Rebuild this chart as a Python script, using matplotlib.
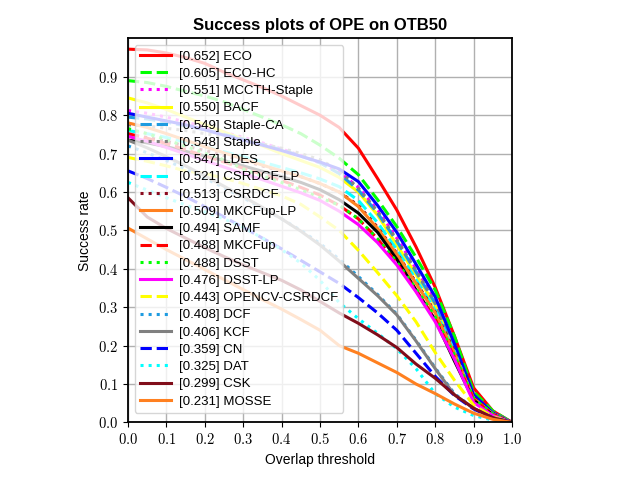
import numpy as np
import matplotlib
matplotlib.use("Agg")
from matplotlib import pyplot as plt
from matplotlib.ticker import FuncFormatter


# overlap thresholds used by the OTB toolkit
thresholds = np.linspace(0, 1, 21)

names = ["ECO", "ECO-HC", "MCCTH-Staple", "BACF", "Staple-CA", "Staple", "LDES",
         "CSRDCF-LP", "CSRDCF", "MKCFup-LP", "SAMF", "MKCFup", "DSST", "DSST-LP",
         "OPENCV-CSRDCF", "DCF", "KCF", "CN", "DAT", "CSK", "MOSSE"]
auc = [0.652, 0.605, 0.551, 0.550, 0.549, 0.548, 0.547, 0.521, 0.513, 0.509,
       0.494, 0.488, 0.488, 0.476, 0.443, 0.408, 0.406, 0.359, 0.325, 0.299, 0.231]

eco = [0.972, 0.970, 0.962, 0.950, 0.935, 0.912, 0.892, 0.872, 0.850, 0.825, 0.800,
       0.768, 0.714, 0.635, 0.553, 0.457, 0.352, 0.225, 0.090, 0.030, 0.0]
eco_hc = [0.890, 0.885, 0.875, 0.862, 0.850, 0.835, 0.815, 0.795, 0.775, 0.752, 0.722,
          0.688, 0.645, 0.580, 0.510, 0.430, 0.345, 0.225, 0.080, 0.030, 0.0]
mccth = [0.812, 0.805, 0.795, 0.782, 0.770, 0.756, 0.742, 0.728, 0.712, 0.695, 0.676,
         0.652, 0.612, 0.553, 0.480, 0.400, 0.315, 0.200, 0.070, 0.025, 0.0]
bacf = [0.845, 0.832, 0.815, 0.795, 0.776, 0.756, 0.738, 0.720, 0.700, 0.682, 0.664,
        0.638, 0.600, 0.540, 0.462, 0.385, 0.305, 0.195, 0.070, 0.025, 0.0]
staple_ca = [0.795, 0.790, 0.782, 0.772, 0.762, 0.750, 0.738, 0.724, 0.710, 0.694, 0.676,
             0.648, 0.605, 0.545, 0.472, 0.392, 0.310, 0.195, 0.068, 0.024, 0.0]
staple = [0.775, 0.772, 0.766, 0.760, 0.752, 0.744, 0.735, 0.725, 0.714, 0.700, 0.684,
          0.656, 0.610, 0.550, 0.476, 0.396, 0.312, 0.198, 0.068, 0.024, 0.0]
ldes = [0.805, 0.795, 0.785, 0.775, 0.762, 0.748, 0.735, 0.722, 0.708, 0.693, 0.678,
        0.660, 0.627, 0.565, 0.495, 0.412, 0.327, 0.205, 0.072, 0.025, 0.0]
csrdcf_lp = [0.760, 0.752, 0.742, 0.730, 0.718, 0.705, 0.692, 0.678, 0.664, 0.650, 0.634,
             0.614, 0.578, 0.520, 0.450, 0.372, 0.292, 0.185, 0.062, 0.022, 0.0]
csrdcf = [0.750, 0.742, 0.732, 0.720, 0.708, 0.695, 0.682, 0.668, 0.654, 0.640, 0.622,
          0.600, 0.565, 0.508, 0.440, 0.365, 0.288, 0.185, 0.065, 0.022, 0.0]
mkcfup_lp = [0.780, 0.768, 0.752, 0.735, 0.718, 0.702, 0.686, 0.670, 0.655, 0.640, 0.622,
             0.600, 0.562, 0.505, 0.438, 0.362, 0.285, 0.180, 0.062, 0.022, 0.0]
samf = [0.735, 0.728, 0.718, 0.706, 0.694, 0.682, 0.668, 0.654, 0.640, 0.625, 0.606,
        0.580, 0.545, 0.495, 0.425, 0.345, 0.267, 0.160, 0.058, 0.020, 0.0]
mkcfup = [0.752, 0.740, 0.726, 0.710, 0.694, 0.678, 0.662, 0.646, 0.630, 0.612, 0.592,
          0.565, 0.530, 0.478, 0.415, 0.343, 0.268, 0.170, 0.060, 0.020, 0.0]
dsst = [0.765, 0.752, 0.736, 0.719, 0.701, 0.684, 0.660, 0.642, 0.625, 0.606, 0.585,
        0.566, 0.530, 0.478, 0.418, 0.348, 0.275, 0.175, 0.062, 0.022, 0.0]
dsst_lp = [0.745, 0.732, 0.716, 0.699, 0.682, 0.665, 0.648, 0.632, 0.615, 0.598, 0.578,
           0.550, 0.515, 0.468, 0.410, 0.340, 0.262, 0.165, 0.052, 0.018, 0.0]
opencv_csrdcf = [0.690, 0.680, 0.668, 0.655, 0.648, 0.636, 0.622, 0.606, 0.590, 0.568, 0.535,
                 0.500, 0.448, 0.390, 0.330, 0.262, 0.182, 0.110, 0.045, 0.015, 0.0]
dcf = [0.720, 0.702, 0.682, 0.660, 0.636, 0.611, 0.585, 0.558, 0.530, 0.500, 0.466,
       0.425, 0.380, 0.333, 0.282, 0.214, 0.142, 0.075, 0.036, 0.012, 0.0]
kcf = [0.735, 0.715, 0.692, 0.668, 0.642, 0.615, 0.588, 0.560, 0.530, 0.498, 0.462,
       0.420, 0.375, 0.330, 0.280, 0.212, 0.140, 0.072, 0.037, 0.012, 0.0]
cn = [0.655, 0.635, 0.612, 0.588, 0.562, 0.535, 0.508, 0.480, 0.452, 0.422, 0.392,
      0.362, 0.325, 0.285, 0.240, 0.180, 0.120, 0.070, 0.035, 0.012, 0.0]
dat = [0.625, 0.605, 0.585, 0.566, 0.548, 0.530, 0.508, 0.480, 0.450, 0.415, 0.370,
       0.312, 0.270, 0.232, 0.192, 0.140, 0.075, 0.040, 0.018, 0.006, 0.0]
csk = [0.585, 0.535, 0.505, 0.480, 0.455, 0.432, 0.410, 0.390, 0.370, 0.345, 0.315,
       0.285, 0.258, 0.228, 0.195, 0.152, 0.115, 0.072, 0.037, 0.012, 0.0]
mosse = [0.506, 0.478, 0.450, 0.424, 0.398, 0.372, 0.346, 0.320, 0.295, 0.268, 0.240,
         0.200, 0.180, 0.155, 0.130, 0.100, 0.075, 0.048, 0.024, 0.008, 0.0]

curves = [eco, eco_hc, mccth, bacf, staple_ca, staple, ldes, csrdcf_lp, csrdcf, mkcfup_lp,
          samf, mkcfup, dsst, dsst_lp, opencv_csrdcf, dcf, kcf, cn, dat, csk, mosse]

colors = ["#ff0000", "#00ff00", "#ff00ff", "#ffff00", "#1e9be0", "#808080", "#0000ff",
          "#00ffff", "#8b0a1e", "#ff8020", "#000000", "#ff0000", "#00ff00", "#ff00ff",
          "#ffff00", "#1e9be0", "#808080", "#0000ff", "#00ffff", "#800d1a", "#ff8020"]
styles = ["-", "--", ":", "-", "--", ":", "-", "--", ":", "-", "-", "--", ":", "-",
          "--", ":", "-", "--", ":", "-", "-"]

plt.rcParams["font.family"] = ["Liberation Sans", "DejaVu Sans"]
plt.rcParams["mathtext.fontset"] = "cm"

fig = plt.figure(figsize=(6.4, 4.8), dpi=100)
ax = fig.add_axes([0.2, 0.12, 0.6, 0.8])

for name, score, ys, c, ls in zip(names, auc, curves, colors, styles):
    ax.plot(thresholds, ys, color=c, linestyle=ls, linewidth=2.2,
            label=f"[{score:.3f}] {name}")

ax.set_xlim(0, 1)
ax.set_ylim(0, 1)
ticks = np.arange(0, 1.01, 0.1)
ax.set_xticks(ticks)
ax.set_yticks(ticks[:-1])
fmt = FuncFormatter(lambda v, p: f"${v:.1f}$")
ax.xaxis.set_major_formatter(fmt)
ax.yaxis.set_major_formatter(fmt)
ax.tick_params(labelsize=10.5)
ax.grid(color="#b0b0b0", linewidth=1)
ax.set_axisbelow(True)
for sp in ax.spines.values():
    sp.set_linewidth(1.3)

ax.set_title("Success plots of OPE on OTB50", fontsize=12, fontweight="bold")
ax.set_xlabel("Overlap threshold", fontsize=10)
ax.set_ylabel("Success rate", fontsize=10)

ax.legend(loc="upper left", fontsize=9.5, labelspacing=0.38, handlelength=2.35,
          handletextpad=0.6, borderaxespad=0.5)

fig.savefig("out.png")
